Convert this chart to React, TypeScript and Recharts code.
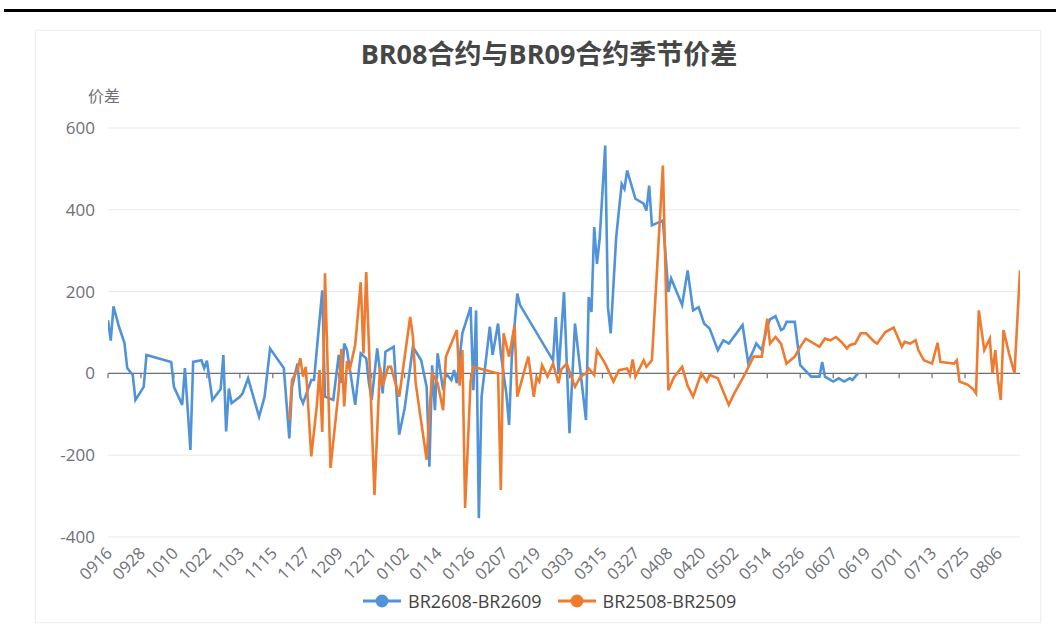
import { LineChart, Line, XAxis, YAxis, CartesianGrid, ReferenceLine } from 'recharts';

// x = days since 09-16 (calendar days, gaps are holidays / non-trading days)
const tickLabels = [
  '0916', '0928', '1010', '1022', '1103', '1115', '1127', '1209', '1221', '0102',
  '0114', '0126', '0207', '0219', '0303', '0315', '0327', '0408', '0420', '0502',
  '0514', '0526', '0607', '0619', '0701', '0713', '0725', '0806',
];
const tickDays = tickLabels.map((_, i) => i * 12);

const blueName = 'BR2608-BR2609';
const blueDays = [
  0, 1, 2, 4, 6, 7, 9, 10, 13, 14, 23, 24, 27, 28, 30, 31, 34, 35, 36, 38,
  41, 42, 43, 44, 45, 48, 49, 51, 55, 57, 59, 64, 66, 67, 69, 70, 71, 74, 75, 78,
  79, 82, 84, 85, 86, 87, 90, 92, 94, 95, 96, 98, 100, 101, 104, 106, 108, 111, 114, 116,
  117, 118, 119, 120, 122, 123, 125, 126, 127, 129, 132, 133, 134, 135, 136, 139, 140, 142, 143, 145,
  146, 147, 149, 150, 162, 163, 164, 166, 168, 170, 174, 175, 176, 177, 178, 179, 181, 182, 183, 185,
  187, 188, 189, 192, 195, 196, 197, 198, 202, 204, 205, 209, 211, 213, 215, 217, 219, 222, 224, 226,
  231, 233, 235, 236, 238, 240, 241, 243, 245, 246, 247, 250, 252, 256, 259, 260, 261, 264, 266, 268,
  270, 271, 273,
];
const blueVals = [
  130, 80, 164, 114, 74, 13, -4, -65, -33, 45, 28, -33, -77, 13, -187, 28, 32, 13, 31, -65,
  -39, 45, -142, -37, -73, -57, -49, -12, -106, -57, 61, 13, -159, -33, 24, -57, -73, -16, -16, 203,
  -57, -65, 45, -24, 73, 57, -77, 49, 37, -24, -65, 61, -49, 53, 65, -150, -85, 65, 32, -33,
  -228, 20, -90, 49, -41, 0, -16, 8, -24, 98, 162, -41, 154, -354, -57, 114, 45, 122, 49, -49,
  -126, 40, 195, 167, 32, 138, 0, 199, -146, 122, -114, 187, 150, 358, 268, 330, 557, 162, 98, 333,
  463, 451, 496, 427, 415, 398, 459, 362, 374, 199, 232, 167, 252, 154, 162, 122, 110, 57, 81, 73,
  118, 28, 57, 73, 57, 114, 132, 140, 106, 110, 126, 126, 20, -8, -8, 28, -8, -20, -12, -20,
  -12, -16, 0,
];

const orangeName = 'BR2508-BR2509';
const orangeDays = [
  66, 67, 69, 70, 71, 72, 74, 76, 77, 78, 79, 81, 84, 85, 86, 87, 88, 90, 92, 93,
  94, 97, 99, 100, 102, 103, 106, 108, 110, 111, 112, 116, 117, 118, 120, 122, 123, 127, 128, 129,
  130, 132, 133, 142, 143, 144, 146, 148, 149, 151, 153, 155, 156, 157, 158, 160, 162, 164, 165, 167,
  170, 172, 174, 175, 177, 178, 181, 184, 186, 189, 190, 191, 192, 195, 196, 198, 202, 204, 206, 209,
  211, 213, 216, 218, 219, 222, 226, 228, 232, 235, 238, 240, 241, 243, 245, 247, 250, 252, 254, 256,
  259, 261, 263, 265, 267, 269, 270, 272, 274, 276, 279, 280, 283, 286, 289, 290, 292, 294, 295, 297,
  300, 302, 303, 308, 309, 310, 313, 315, 316, 317, 319, 321, 322, 323, 324, 325, 326, 328, 330, 332,
];
const orangeVals = [
  -114, -16, 8, 37, -8, 16, -203, -80, 8, -143, 245, -231, -41, 60, -81, 30, 10, 70, 223, 49,
  248, -297, 16, -30, 16, 16, -57, 40, 138, 90, -24, -211, -97, 0, -24, -90, 41, 106, -30, 57,
  -329, -20, 16, 0, -285, 98, 41, 118, -57, -8, 41, -57, -10, -20, 20, -8, 24, -24, 10, 24,
  -33, -8, 0, 12, -4, 57, 24, -20, 8, 12, -4, 34, -8, 32, 16, 32, 508, -41, -10, 16,
  -30, -57, 0, -20, -4, -12, -77, -49, 0, 41, 41, 134, 73, 89, 73, 24, 41, 65, 85, 77,
  65, 85, 81, 89, 77, 61, 69, 73, 98, 98, 77, 73, 101, 112, 65, 77, 73, 81, 57, 32,
  24, 75, 28, 24, 32, -20, -28, -39, -49, 154, 57, 85, 0, 57, -16, -65, 106, 49, 0, 252,
];

const yTicks = [-400, -200, 0, 200, 400, 600];

const blueColor = '#5193d8';
const orangeColor = '#ee7b30';
const axisGray = '#6e7079';
const font = '"Open Sans", "Noto Sans CJK SC", sans-serif';

const blueData = blueDays.map((d, i) => ({ d, v: blueVals[i] }));
const orangeData = orangeDays.map((d, i) => ({ d, v: orangeVals[i] }));

function XTick({ x, y, payload }: any) {
  const label = tickLabels[Math.round(payload.value / 12)];
  return (
    <g transform={`translate(${x + 1},${y + 5})`}>
      <text textAnchor="end" transform="rotate(-45)" fill={axisGray} fontSize={16.5} fontFamily={font} dy={6}>
        {label}
      </text>
    </g>
  );
}

function LegendItem({ color, label }: { color: string; label: string }) {
  return (
    <div style={{ display: 'flex', alignItems: 'center', gap: 7 }}>
      <svg width={38} height={14}>
        <line x1={0} y1={7} x2={38} y2={7} stroke={color} strokeWidth={3} />
        <circle cx={19} cy={7} r={6.5} fill={color} />
      </svg>
      <span style={{ fontSize: 18, color: '#444', fontFamily: font }}>{label}</span>
    </div>
  );
}

export default function App() {
  return (
    <div style={{ position: 'absolute', left: 0, top: 0, width: 1056, height: 642, background: '#fff', fontFamily: font }}>
      <div style={{ position: 'absolute', left: 4, top: 9, width: 1052, height: 3, background: '#000' }} />
      <div
        style={{
          position: 'absolute', left: 35, top: 30, width: 1004, height: 591,
          border: '1px solid #f0f0f0', boxShadow: '0 0 3px rgba(0,0,0,0.05)',
        }}
      />
      <div
        style={{
          position: 'absolute', left: 549, top: 33, transform: 'translateX(-50%)', whiteSpace: 'nowrap',
          fontSize: 27, fontWeight: 700, color: '#464646',
        }}
      >
        BR08合约与BR09合约季节价差
      </div>
      <div style={{ position: 'absolute', left: 88, top: 83, fontSize: 16, color: axisGray }}>价差</div>

      <div style={{ position: 'absolute', left: 0, top: 0 }}>
        <LineChart width={1056} height={642} margin={{ top: 128, right: 36, bottom: 45, left: 48 }}>
          <CartesianGrid horizontal vertical={false} stroke="#e6e9ef" />
          <XAxis
            dataKey="d"
            type="number"
            domain={[0, 332]}
            ticks={tickDays}
            interval={0}
            allowDataOverflow
            axisLine={false}
            tickLine={false}
            height={60}
            tick={<XTick />}
          />
          <YAxis
            type="number"
            domain={[-400, 600]}
            ticks={yTicks}
            interval={0}
            width={60}
            axisLine={false}
            tickLine={false}
            tickSize={0}
            tickMargin={13}
            tick={{ fill: axisGray, fontSize: 17, fontFamily: font }}
          />
          <ReferenceLine y={0} stroke={axisGray} strokeWidth={1.2} />
          {tickDays.map((d) => (
            <ReferenceLine
              key={d}
              segment={[{ x: d, y: 0 }, { x: d, y: -12 }]}
              stroke={axisGray}
              strokeWidth={1.2}
            />
          ))}
          <Line
            data={blueData}
            dataKey="v"
            name={blueName}
            stroke={blueColor}
            strokeWidth={2.6}
            dot={false}
            type="linear"
            isAnimationActive={false}
          />
          <Line
            data={orangeData}
            dataKey="v"
            name={orangeName}
            stroke={orangeColor}
            strokeWidth={2.6}
            dot={false}
            type="linear"
            isAnimationActive={false}
          />
        </LineChart>
      </div>

      <div
        style={{
          position: 'absolute', left: 363, top: 589, display: 'flex', alignItems: 'center', gap: 16,
        }}
      >
        <LegendItem color={blueColor} label={blueName} />
        <LegendItem color={orangeColor} label={orangeName} />
      </div>
    </div>
  );
}
